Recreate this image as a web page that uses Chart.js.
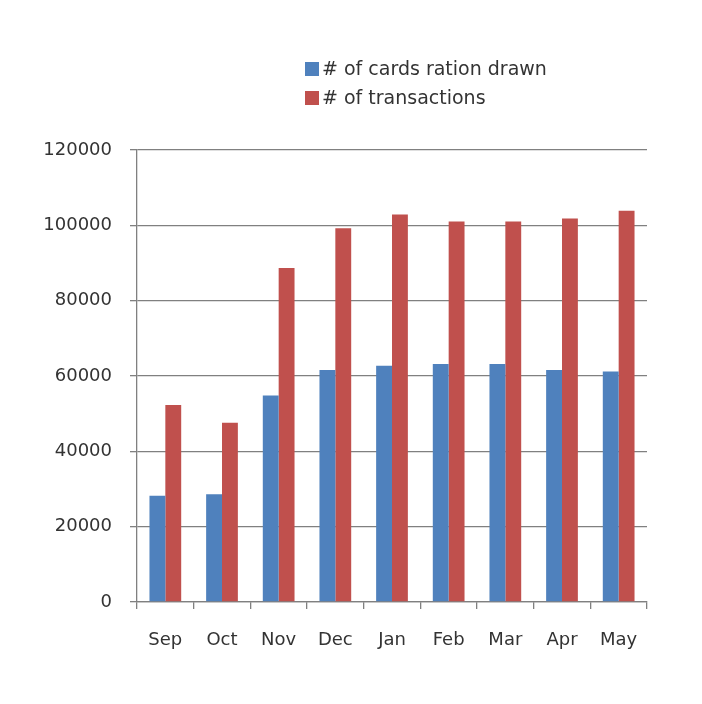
<!DOCTYPE html>
<html>
<head>
<meta charset="utf-8">
<script src="https://cdn.jsdelivr.net/npm/chart.js@4"></script>
<style>
  html, body { margin: 0; padding: 0; background: #ffffff; }
  #wrap { width: 702px; height: 704px; }
</style>
</head>
<body>
<div id="wrap"><canvas id="c" width="702" height="704"></canvas></div>
<script>
// Monthly figures
const months = ['Sep', 'Oct', 'Nov', 'Dec', 'Jan', 'Feb', 'Mar', 'Apr', 'May'];
const cardsDrawn = [28200, 28600, 54800, 61600, 62700, 63200, 63200, 61600, 61200];
const transactions = [52300, 47600, 88700, 99200, 102900, 101000, 101000, 101800, 103900];
const seriesNames = ['# of cards ration drawn', '# of transactions'];
const yTicks = [0, 20000, 40000, 60000, 80000, 100000, 120000];

const FONT = '"DejaVu Sans", sans-serif';
const TEXT = '#333333';
const GRID = '#808080';

// Stacked legend in the top area, one row per dataset
const stackedLegend = {
  id: 'stackedLegend',
  afterDraw(chart) {
    const ctx = chart.ctx;
    const x = 305, y0 = 69, rowGap = 29, box = 14;
    ctx.save();
    ctx.font = '19px ' + FONT;
    ctx.textBaseline = 'middle';
    chart.data.datasets.forEach((ds, i) => {
      const y = y0 + i * rowGap;
      ctx.fillStyle = ds.backgroundColor;
      ctx.fillRect(x, y - box / 2, box, box);
      ctx.fillStyle = TEXT;
      ctx.fillText(ds.label, x + box + 3, y + 1);
    });
    ctx.restore();
  }
};

new Chart(document.getElementById('c'), {
  type: 'bar',
  data: {
    labels: months,
    datasets: [
      { label: seriesNames[0], data: cardsDrawn, backgroundColor: '#4F81BD' },
      { label: seriesNames[1], data: transactions, backgroundColor: '#C0504D' }
    ]
  },
  options: {
    responsive: false,
    animation: false,
    devicePixelRatio: 1,
    layout: { padding: { top: 150, right: 55, left: 0, bottom: 0 } },
    datasets: { bar: { categoryPercentage: 0.56, barPercentage: 1.0 } },
    plugins: {
      legend: { display: false },
      tooltip: { enabled: false }
    },
    scales: {
      x: {
        grid: {
          offset: true,
          drawOnChartArea: false,
          drawTicks: true,
          tickLength: 7,
          color: GRID,
          lineWidth: 1.3
        },
        border: { color: GRID, width: 1.3 },
        ticks: { color: TEXT, font: { family: FONT, size: 18 }, padding: 21 },
        afterFit(scale) { scale.height = 102; }
      },
      y: {
        min: 0,
        max: 120000,
        afterBuildTicks(scale) { scale.ticks = yTicks.map(v => ({ value: v })); },
        grid: { color: GRID, tickLength: 7, lineWidth: 1.3 },
        border: { color: GRID, width: 1.3 },
        ticks: { color: TEXT, font: { family: FONT, size: 18 }, padding: 18, callback: v => String(v) },
        afterFit(scale) { scale.width = 137; }
      }
    }
  },
  plugins: [stackedLegend]
});
</script>
</body>
</html>
